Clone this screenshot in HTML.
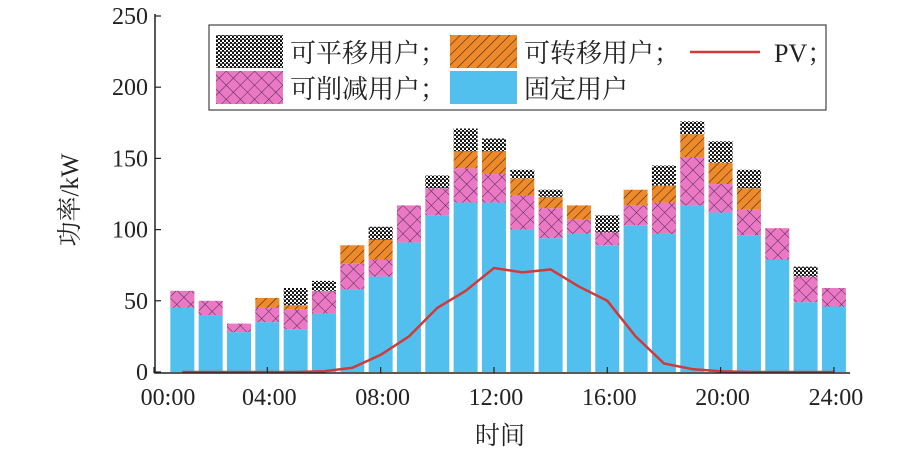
<!DOCTYPE html>
<html><head><meta charset="utf-8"><style>
body{margin:0;background:#fff}
svg text{font-family:"Liberation Serif","Noto Serif CJK SC",serif;fill:#222}
</style></head><body>
<svg id="c" width="922" height="455" xmlns="http://www.w3.org/2000/svg">
<defs>
<pattern id="pMove" width="4" height="4" patternUnits="userSpaceOnUse"><rect width="4" height="4" fill="#fff"/><rect width="2" height="2" fill="#111"/><rect x="2" y="2" width="2" height="2" fill="#111"/><rect x="0" y="3" width="4" height="0.6" fill="#333"/></pattern>
<pattern id="pShift" width="7" height="7" patternUnits="userSpaceOnUse" patternTransform="rotate(45)"><rect width="7" height="7" fill="#ef8a2a"/><line x1="0" y1="0" x2="0" y2="7" stroke="#3a2a1a" stroke-width="1.2"/></pattern>
<pattern id="pCut" width="10" height="10" patternUnits="userSpaceOnUse" patternTransform="rotate(45)"><rect width="10" height="10" fill="#ea78c4"/><line x1="0" y1="0" x2="10" y2="0" stroke="#4a2a4a" stroke-width="1"/><line x1="0" y1="0" x2="0" y2="10" stroke="#4a2a4a" stroke-width="1"/></pattern>
</defs>
<g id="plot"></g>
</svg>
<script>
const hours=[1,2,3,4,5,6,7,8,9,10,11,12,13,14,15,16,17,18,19,20,21,22,23,24];
const fixedLoad=[45,40,28,35,30,41,58,67,91,110,119,119,100,94,97,89,103,97,117,112,96,79,49,46];
const cutLoad=[12,10,6,10,14,16,18,12,26,19,24,20,24,21,10,9,14,22,34,20,18,22,18,13];
const shiftLoad=[0,0,0,7,3,0,13,14,0,0,12,16,12,8,10,0,11,12,16,15,15,0,0,0];
const moveLoad=[0,0,0,0,12,7,0,9,0,9,16,9,6,5,0,12,0,14,9,15,13,0,7,0];
const pv=[0,0,0,0,0,0.5,3,12,25,45,57,73,70,72,60,50,25,6,2,0.5,0,0,0,0];
const yTicks=[0,50,100,150,200,250];
const xTicks=[0,4,8,12,16,20,24];
const xTickLabels=["00:00","04:00","08:00","12:00","16:00","20:00","24:00"];
const NS="http://www.w3.org/2000/svg";
const g=document.getElementById('plot');
const X=h=>154+h*28.33, Y=v=>372-v*1.424;
function el(t,a,txt){const e=document.createElementNS(NS,t);for(const k in a)e.setAttribute(k,a[k]);if(txt!==undefined)e.textContent=txt;g.appendChild(e);return e;}
const series=[[fixedLoad,'#52c0ee','fixed'],[cutLoad,'url(#pCut)','curtailable'],[shiftLoad,'url(#pShift)','transferable'],[moveLoad,'url(#pMove)','shiftable']];
hours.forEach((h,i)=>{let base=0;series.forEach(([arr,fill,nm])=>{const v=arr[i];if(v<=0)return;
const r=el('rect',{x:X(h)-12,y:Y(base+v),width:24,height:Y(base)-Y(base+v),fill:fill});


base+=v;});});
let d='';hours.forEach((h,i)=>{d+=(i?'L':'M')+X(h)+','+Y(pv[i]);});
const pl=el('path',{d:d,fill:'none',stroke:'#d03a3a','stroke-width':2.5});


const ax=el('path',{d:'M155,14V373H850',fill:'none',stroke:'#222','stroke-width':1.5});


yTicks.forEach(v=>{const t=el('line',{x1:155,x2:161,y1:Y(v),y2:Y(v),stroke:'#222','stroke-width':1.2});


const l=el('text',{x:148,y:Y(v)+8,'text-anchor':'end','font-size':24},v);

});
xTicks.forEach((h,i)=>{const t=el('line',{x1:X(h),x2:X(h),y1:373,y2:367,stroke:'#222','stroke-width':1.2});


const l=el('text',{x:i==0?168:X(h)+2,y:405,'text-anchor':'middle','font-size':24},xTickLabels[i]);

});
const xt=el('text',{x:500,y:444,'text-anchor':'middle','font-size':25},'时间');


const yt=el('text',{x:0,y:0,'text-anchor':'middle','font-size':25,transform:'translate(78,200) rotate(-90)'},'功率/kW');


const lb=el('rect',{x:209,y:25,width:617,height:85,fill:'#fff',stroke:'#444','stroke-width':1.2});


const legend=[[216,35,'url(#pMove)','可平移用户；'],[450,35,'url(#pShift)','可转移用户；'],[216,71,'url(#pCut)','可削减用户；'],[450,71,'#52c0ee','固定用户']];
legend.forEach(([x,y,f,t])=>{const s=el('rect',{x:x,y:y,width:67,height:33,fill:f});


const tx=el('text',{x:x+74,y:y+27,'font-size':26},t);

});
const ll=el('line',{x1:690,x2:760,y1:52,y2:52,stroke:'#d03a3a','stroke-width':2.5});


const lt=el('text',{x:774,y:62,'font-size':26},'PV；');


</script>
</body></html>
